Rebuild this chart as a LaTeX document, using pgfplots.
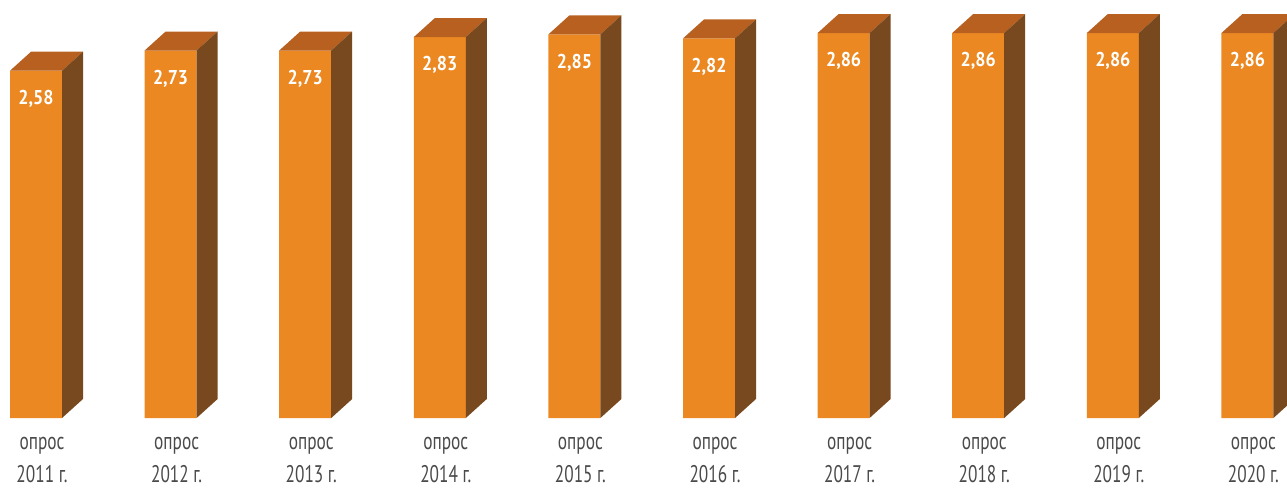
\documentclass[border=0pt]{standalone}
\usepackage{pgfplots}
\pgfplotsset{compat=1.18}
\usepackage{pgfplotstable}
\usepackage{fontspec}
\setmainfont{PT Sans}
\newfontfamily\narrow[FakeStretch=0.72]{PT Sans}
\newfontfamily\narrowb[FakeStretch=0.9]{PT Sans Bold}
\definecolor{frontc}{HTML}{EC8822}
\definecolor{topc}{HTML}{B8601F}
\definecolor{sidec}{HTML}{78481E}
\definecolor{labelgray}{HTML}{4A4A4A}

\pgfplotstableread{
x y
0 2.58
1 2.73
2 2.73
3 2.83
4 2.85
5 2.82
6 2.86
7 2.86
8 2.86
9 2.86
}\datatable

% top and side faces of a bar, drawn relative to the top centre of its front face
\pgfdeclareplotmark{prism}{%
  \pgfmathsetmacro\Hlow{-\barh*67.3}%
  \pgfmathsetmacro\Hback{9.5-\barh*67.3}%
  \pgfsetfillcolor{topc}%
  \pgfpathmoveto{\pgfqpoint{-13pt}{0pt}}%
  \pgfpathlineto{\pgfqpoint{13pt}{0pt}}%
  \pgfpathlineto{\pgfqpoint{23.5pt}{9.5pt}}%
  \pgfpathlineto{\pgfqpoint{-2.5pt}{9.5pt}}%
  \pgfpathclose
  \pgfusepath{fill}%
  \pgfsetfillcolor{sidec}%
  \pgfpathmoveto{\pgfqpoint{13pt}{0pt}}%
  \pgfpathlineto{\pgfqpoint{23.5pt}{9.5pt}}%
  \pgfpathlineto{\pgfpoint{23.5pt}{\Hback pt}}%
  \pgfpathlineto{\pgfpoint{13pt}{\Hlow pt}}%
  \pgfpathclose
  \pgfusepath{fill}%
}

\begin{document}
\begin{tikzpicture}
\begin{axis}[
  name=ax,
  x=67.3pt, y=67.3pt,
  xmin=-0.2675, xmax=9.294,
  ymin=-0.5201, ymax=3.1055,
  axis line style={draw=none},
  tick style={draw=none},
  major tick length=0pt,
  ytick=\empty,
  xtick={0,...,9},
  xticklabels={{опрос\\2011 г.},{опрос\\2012 г.},{опрос\\2013 г.},{опрос\\2014 г.},{опрос\\2015 г.},{опрос\\2016 г.},{опрос\\2017 г.},{опрос\\2018 г.},{опрос\\2019 г.},{опрос\\2020 г.}},
  xticklabel style={font=\narrow\fontsize{12}{16.5}\selectfont, text=labelgray, align=center, anchor=north, inner sep=0pt, yshift=25.5pt, xshift=3pt},
  clip=false,
  /pgf/number format/.cd, use comma, fixed, fixed zerofill, precision=2, assume math mode=true,
]
\addplot[ybar, bar shift=0pt, bar width=26pt, fill=frontc, draw=none,
  nodes near coords,
  nodes near coords style={font=\narrowb\fontsize{10}{10}\selectfont, text=white, anchor=center, yshift=-14pt}]
  table[x=x, y=y] {\datatable};
\addplot[only marks, mark=prism,
  visualization depends on={\thisrow{y} \as \barh}]
  table[x=x, y=y] {\datatable};
\end{axis}
\pgfresetboundingbox
\useasboundingbox (ax.south west) rectangle (ax.north east);
\end{tikzpicture}
\end{document}
